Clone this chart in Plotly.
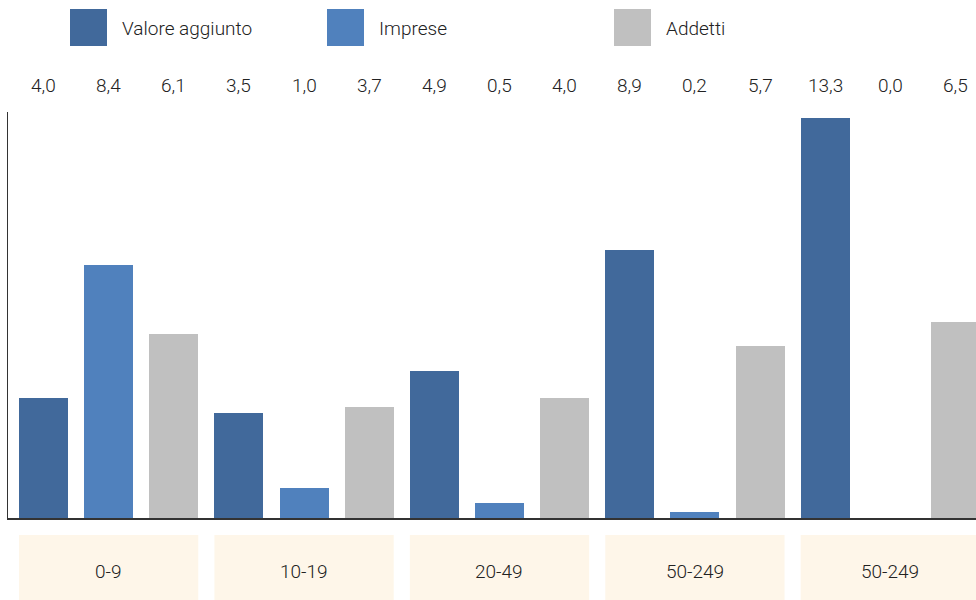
import plotly.graph_objects as go

categories = ["0-9", "10-19", "20-49", "50-249", "50-249"]
series_names = ["Valore aggiunto", "Imprese", "Addetti"]
valore_aggiunto = [4.0, 3.5, 4.9, 8.9, 13.3]
imprese = [8.4, 1.0, 0.5, 0.2, 0.0]
addetti = [6.1, 3.7, 4.0, 5.7, 6.5]

colors = ["#41699b", "#5081bd", "#c0c0c0"]
series = [valore_aggiunto, imprese, addetti]

W, H = 976, 600
ML, MR, MT, MB = 8, 0, 112, 82
PW, PH = W - ML - MR, H - MT - MB
BASE = MT + PH
FONT = "Roboto"
FW = 300
TXT = "#222222"
BW = 0.752

fig = go.Figure()
for j, (name, vals) in enumerate(zip(series_names, series)):
    fig.add_trace(go.Bar(
        x=[i * 3 + j for i in range(len(vals))], y=vals, name=name,
        marker=dict(color=colors[j], line=dict(width=0)), width=BW,
        showlegend=False, hoverinfo="y",
    ))

shapes, annotations = [], []
# value labels row
for i in range(len(categories)):
    for j in range(3):
        v = series[j][i]
        annotations.append(dict(
            x=i * 3 + j, xref="x", y=1, yref="paper", yshift=27,
            text=f"{v:.1f}".replace(".", ","), showarrow=False,
            font=dict(family=FONT, size=19, color=TXT, weight=FW), yanchor="middle",
        ))
# category boxes
for i, c in enumerate(categories):
    shapes.append(dict(
        type="rect", xref="x", yref="paper",
        x0=i * 3 - BW / 2, x1=i * 3 + 2 + BW / 2,
        y0=-(H + 10 - BASE) / PH, y1=-(535 - BASE) / PH,
        fillcolor="#fef6e9", line=dict(width=0), layer="below",
    ))
    annotations.append(dict(
        x=i * 3 + 1, xref="x", y=-(571 - BASE) / PH, yref="paper",
        text=c, showarrow=False, font=dict(family=FONT, size=19, color=TXT, weight=FW),
        yanchor="middle",
    ))
# legend
leg_sq = [70, 327, 614]
for k, name in enumerate(series_names):
    shapes.append(dict(
        type="rect", xref="paper", yref="paper",
        x0=(leg_sq[k] - ML) / PW, x1=(leg_sq[k] + 37 - ML) / PW,
        y0=(BASE - 46) / PH, y1=(BASE - 9) / PH,
        fillcolor=colors[k], line=dict(width=0),
    ))
    annotations.append(dict(
        x=(leg_sq[k] + 50 - ML) / PW, xref="paper", y=(BASE - 28) / PH, yref="paper",
        text=name, showarrow=False, xanchor="left", yanchor="middle",
        font=dict(family=FONT, size=19, color=TXT, weight=FW),
    ))

fig.update_layout(
    width=W, height=H, margin=dict(l=ML, r=MR, t=MT, b=MB),
    paper_bgcolor="white", plot_bgcolor="white",
    shapes=shapes, annotations=annotations, bargap=0,
    xaxis=dict(range=[-0.545, 14.315], showticklabels=False, ticks="",
               showgrid=False, zeroline=False, showline=True,
               linecolor="#333333", linewidth=2, fixedrange=True),
    yaxis=dict(range=[0, 13.49], showticklabels=False, ticks="",
               showgrid=False, zeroline=False, showline=True,
               linecolor="#333333", linewidth=1, fixedrange=True),
)
fig.write_html(
    "out.html",
    config={"displayModeBar": False},
    post_script="document.body.style.margin='0';document.body.style.overflow='hidden';",
)
